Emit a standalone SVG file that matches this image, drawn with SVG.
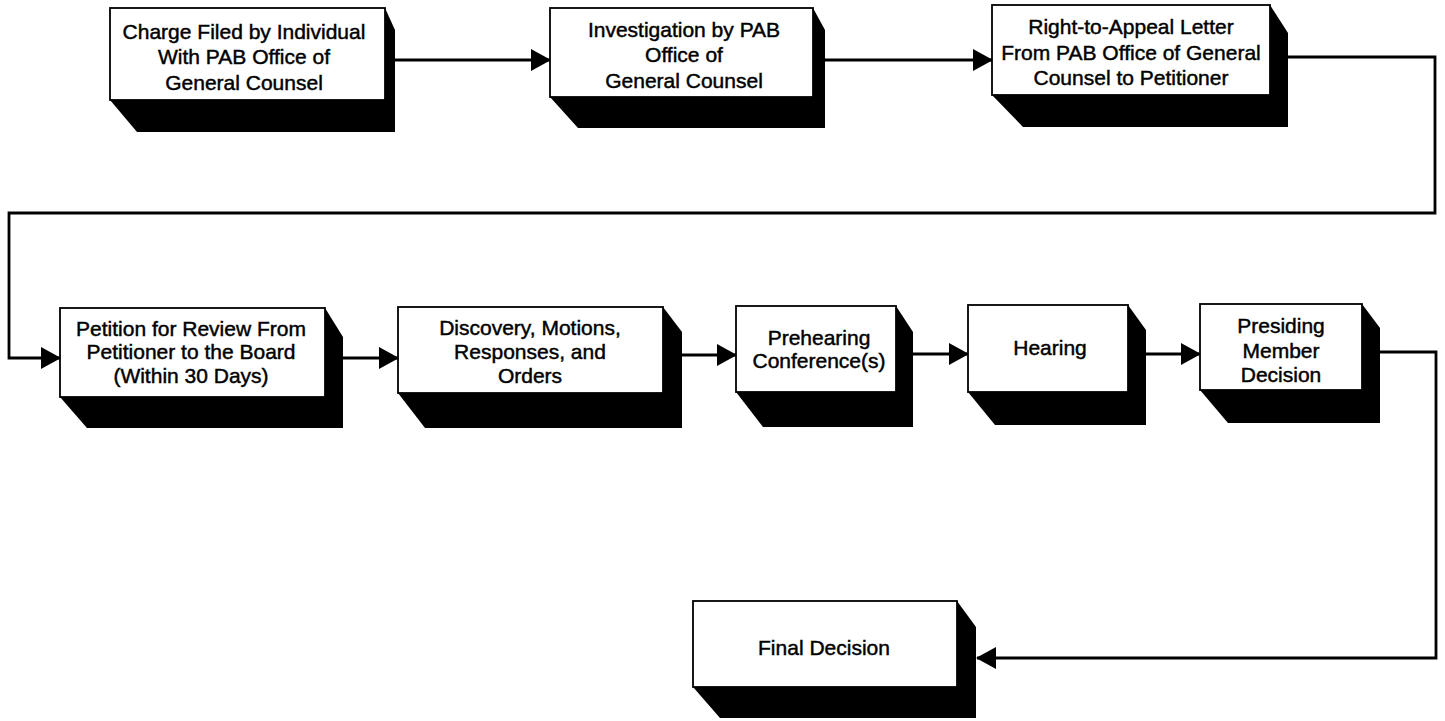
<svg xmlns="http://www.w3.org/2000/svg" width="1445" height="721" viewBox="0 0 1445 721">
<style>
.shadow{fill:#000}
.box{fill:#fff;stroke:#000;stroke-width:1.8}
.lbl{font-family:"Liberation Sans",Arial,Helvetica,sans-serif;font-size:21px;text-anchor:middle;fill:#000;stroke:#000;stroke-width:0.45}
.conn{fill:none;stroke:#000;stroke-width:2.8}
</style>
<defs>
<marker id="ah" markerUnits="userSpaceOnUse" markerWidth="20" markerHeight="22" viewBox="0 0 20 22" refX="19" refY="11" orient="auto">
<path d="M0,0 L20,11 L0,22 z" fill="#000"/>
</marker>
</defs>
<rect x="0" y="0" width="1445" height="721" fill="#fff"/>
<g id="connectors">
<path class="conn" d="M395,60 H550" marker-end="url(#ah)"/>
<path class="conn" d="M825,60 H992" marker-end="url(#ah)"/>
<path class="conn" d="M1288,57 H1435 V213 H9 V358 H60" marker-end="url(#ah)"/>
<path class="conn" d="M343,358 H398" marker-end="url(#ah)"/>
<path class="conn" d="M682,355 H736" marker-end="url(#ah)"/>
<path class="conn" d="M913,354 H968" marker-end="url(#ah)"/>
<path class="conn" d="M1146,354 H1200" marker-end="url(#ah)"/>
<path class="conn" d="M1380,352 H1436 V658 H977" marker-end="url(#ah)"/>
</g>
<g id="n1">
<polygon class="shadow" points="110,8 385,8 395,30 395,132 137,132 110,100"/>
<rect class="box" x="110" y="8" width="275" height="92"/>
<text class="lbl" x="244" y="39">Charge Filed by Individual</text>
<text class="lbl" x="244" y="64">With PAB Office of</text>
<text class="lbl" x="244" y="90">General Counsel</text>
</g>
<g id="n2">
<polygon class="shadow" points="550,8 813,8 825,30 825,128 578,128 550,97"/>
<rect class="box" x="550" y="8" width="263" height="89"/>
<text class="lbl" x="684" y="37">Investigation by PAB</text>
<text class="lbl" x="684" y="62">Office of</text>
<text class="lbl" x="684" y="88">General Counsel</text>
</g>
<g id="n3">
<polygon class="shadow" points="992,5 1270,5 1288,33 1288,127 1023,127 992,95"/>
<rect class="box" x="992" y="5" width="278" height="90"/>
<text class="lbl" x="1131" y="34">Right-to-Appeal Letter</text>
<text class="lbl" x="1131" y="60">From PAB Office of General</text>
<text class="lbl" x="1131" y="85">Counsel to Petitioner</text>
</g>
<g id="n4">
<polygon class="shadow" points="60,308 325,308 343,337 343,428 87,428 60,397"/>
<rect class="box" x="60" y="308" width="265" height="89"/>
<text class="lbl" x="191" y="336">Petition for Review From</text>
<text class="lbl" x="191" y="359">Petitioner to the Board</text>
<text class="lbl" x="191" y="383">(Within 30 Days)</text>
</g>
<g id="n5">
<polygon class="shadow" points="398,307 663,307 682,332 682,428 425,428 398,393"/>
<rect class="box" x="398" y="307" width="265" height="86"/>
<text class="lbl" x="530" y="335">Discovery, Motions,</text>
<text class="lbl" x="530" y="359">Responses, and</text>
<text class="lbl" x="530" y="383">Orders</text>
</g>
<g id="n6">
<polygon class="shadow" points="736,306 896,306 913,332 913,427 763,427 736,392"/>
<rect class="box" x="736" y="306" width="160" height="86"/>
<text class="lbl" x="819" y="345">Prehearing</text>
<text class="lbl" x="819" y="368">Conference(s)</text>
</g>
<g id="n7">
<polygon class="shadow" points="968,305 1128,305 1146,330 1146,425 995,425 968,392"/>
<rect class="box" x="968" y="305" width="160" height="87"/>
<text class="lbl" x="1050" y="355">Hearing</text>
</g>
<g id="n8">
<polygon class="shadow" points="1200,304 1362,304 1380,328 1380,423 1228,423 1200,390"/>
<rect class="box" x="1200" y="304" width="162" height="86"/>
<text class="lbl" x="1281" y="333">Presiding</text>
<text class="lbl" x="1281" y="358">Member</text>
<text class="lbl" x="1281" y="382">Decision</text>
</g>
<g id="n9">
<polygon class="shadow" points="693,601 957,601 976,627 976,718 720,718 693,687"/>
<rect class="box" x="693" y="601" width="264" height="86"/>
<text class="lbl" x="824" y="655">Final Decision</text>
</g>
</svg>
